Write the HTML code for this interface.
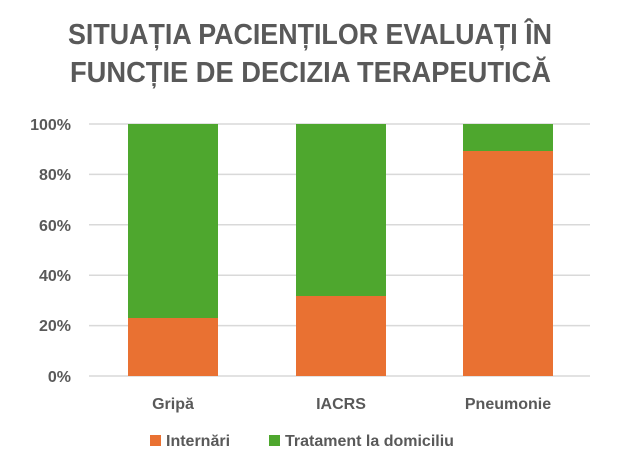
<!DOCTYPE html>
<html><head><meta charset="utf-8"><style>
body{margin:0;background:#fff;}
svg text{font-family:"Liberation Sans",sans-serif;font-weight:bold;fill:#595959;}
</style></head><body>
<svg width="618" height="468" xmlns="http://www.w3.org/2000/svg">
<rect width="618" height="468" fill="#fff"/>
<text x="68" y="44" font-size="29" textLength="484" lengthAdjust="spacingAndGlyphs">SITUAȚIA PACIENȚILOR EVALUAȚI ÎN</text>
<text x="70" y="82" font-size="29" textLength="481" lengthAdjust="spacingAndGlyphs">FUNCȚIE DE DECIZIA TERAPEUTICĂ</text>
<g stroke="#d9d9d9" stroke-width="1.5">
<line x1="89" x2="590" y1="124" y2="124"/><line x1="89" x2="590" y1="174.4" y2="174.4"/>
<line x1="89" x2="590" y1="224.8" y2="224.8"/><line x1="89" x2="590" y1="275.2" y2="275.2"/>
<line x1="89" x2="590" y1="325.6" y2="325.6"/><line x1="89" x2="590" y1="376" y2="376"/>
</g>
<g font-size="16" text-anchor="end">
<text x="71" y="130">100%</text><text x="71" y="180">80%</text><text x="71" y="231">60%</text>
<text x="71" y="281">40%</text><text x="71" y="331">20%</text><text x="71" y="382">0%</text>
</g>
<rect x="128" y="124" width="90" height="194" fill="#4ea72e"/>
<rect x="128" y="318" width="90" height="58" fill="#e97132"/>
<rect x="296" y="124" width="90" height="172" fill="#4ea72e"/>
<rect x="296" y="296" width="90" height="80" fill="#e97132"/>
<rect x="463" y="124" width="90" height="27" fill="#4ea72e"/>
<rect x="463" y="151" width="90" height="225" fill="#e97132"/>
<g font-size="16" text-anchor="middle">
<text x="173" y="409">Gripă</text><text x="341" y="409">IACRS</text><text x="508" y="409">Pneumonie</text>
</g>
<rect x="150" y="435" width="11" height="11" fill="#e97132"/>
<text x="166" y="446" font-size="16">Internări</text>
<rect x="269" y="435" width="11" height="11" fill="#4ea72e"/>
<text x="285" y="446" font-size="16">Tratament la domiciliu</text>
</svg>
</body></html>
